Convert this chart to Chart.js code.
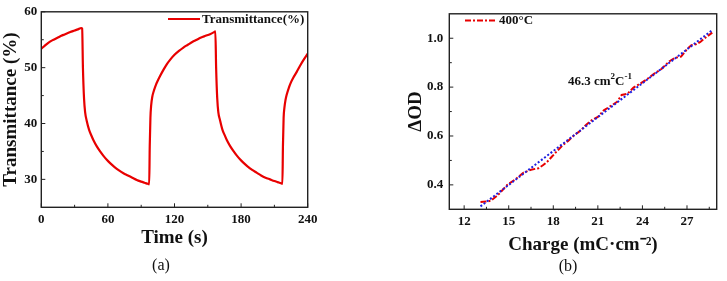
<!DOCTYPE html>
<html>
<head>
<meta charset="utf-8">
<script src="https://cdn.jsdelivr.net/npm/chart.js@4.4.0/dist/chart.umd.min.js"></script>
<style>
  body { margin: 0; background: #fff; }
  #wrap { position: relative; width: 727px; height: 281px; }
  .box { position: absolute; top: 0; height: 281px; }
</style>
</head>
<body>
<div id="wrap">
  <div class="box" style="left:0;width:360px"><canvas id="chartA"></canvas></div>
  <div class="box" style="left:360px;width:367px"><canvas id="chartB"></canvas></div>
</div>
<script>
// (a) transmittance vs time
const timeSec = [
  0, 3, 6, 9, 12, 15, 18, 21, 24, 27, 30, 33, 36, 36.8,
  37.5, 38.5, 39.5, 41, 43, 45, 47, 50, 53, 56, 59, 62, 66, 70, 74, 78, 82, 86, 90, 93, 96, 97.2,
  97.7, 98.3, 99, 100, 101, 103, 105, 107, 110, 113, 116, 120, 124, 128, 132, 136, 140, 144, 148, 152, 156, 156.8,
  157.5, 158.5, 159.5, 161, 163, 165, 167, 170, 173, 176, 179, 182, 186, 190, 194, 198, 202, 206, 210, 213, 216, 217.2,
  217.7, 218.3, 219, 220, 221, 223, 225, 227, 230, 233, 236, 240
];
const transmittance = [
  53.4, 53.9, 54.4, 54.8, 55.1, 55.4, 55.7, 55.95, 56.2, 56.45, 56.65, 56.85, 57.1, 57.0,
  50, 44.5, 42, 40.4, 38.9, 37.9, 37.0, 35.9, 35.0, 34.2, 33.5, 32.9, 32.2, 31.6, 31.1, 30.7, 30.3, 29.9, 29.6, 29.4, 29.2, 29.1,
  36, 41, 43.3, 44.8, 45.6, 46.8, 47.7, 48.5, 49.6, 50.6, 51.4, 52.3, 53.0, 53.6, 54.1, 54.6, 55.0, 55.4, 55.7, 56.0, 56.4, 56.5,
  50, 44.5, 42, 40.6, 39.0, 38.0, 37.1, 36.0, 35.1, 34.3, 33.6, 33.0, 32.3, 31.7, 31.2, 30.7, 30.3, 30.0, 29.7, 29.5, 29.3, 29.2,
  36, 41, 42.8, 44.2, 45.1, 46.4, 47.4, 48.2, 49.2, 50.3, 51.3, 52.5
];
const timeTicks = [0, 60, 120, 180, 240];
const timeMinor = [30, 90, 150, 210];
const transTicks = [30, 40, 50, 60];
const transMinor = [35, 45, 55];

// (b) delta OD vs charge density
const charge = [13.1, 13.5, 13.8, 14.3, 14.9, 15.5, 16.0, 16.5, 17.0, 17.3, 17.6, 17.9, 18.2, 18.6, 19.0, 19.4, 19.8,
  20.2, 20.6, 21.0, 21.4, 21.8, 22.3, 22.6, 23.0, 23.4, 23.8, 24.3, 24.8, 25.3, 25.8, 26.2, 26.6, 27.0, 27.3, 27.6, 27.9, 28.3, 28.7];
const deltaOD = [0.330, 0.332, 0.335, 0.36, 0.40, 0.425, 0.45, 0.462, 0.468, 0.48, 0.495, 0.515, 0.535, 0.56, 0.58, 0.603, 0.62,
  0.645, 0.665, 0.678, 0.705, 0.72, 0.74, 0.768, 0.773, 0.798, 0.812, 0.832, 0.855, 0.875, 0.905, 0.92, 0.925, 0.955, 0.972, 0.975, 0.985, 1.005, 1.023];
const fitCharge = [13.1, 28.7];
const fitOD = [0.312, 1.033];
const chargeTicks = [12, 15, 18, 21, 24, 27];
const chargeMinor = [13.5, 16.5, 19.5, 22.5, 25.5, 28.5];
const odTicks = [0.4, 0.6, 0.8, 1.0];
const odTickLabels = ['0.4', '0.6', '0.8', '1.0'];
const odMinor = [0.5, 0.7, 0.9];

const SERIF = "'Liberation Serif', 'Times New Roman', serif";
Chart.defaults.font.family = SERIF;
Chart.defaults.color = '#111';

// frame, inward ticks, legend, caption, note
const decoPlugin = {
  id: 'deco',
  afterDraw(chart, args, o) {
    const { ctx, chartArea: a, scales: { x, y } } = chart;
    ctx.save();
    ctx.strokeStyle = '#222';
    ctx.lineWidth = 1.4;
    ctx.strokeRect(a.left, a.top, a.right - a.left, a.bottom - a.top);
    ctx.lineWidth = 1;
    ctx.beginPath();
    const tx = (v, len) => { const p = x.getPixelForValue(v); ctx.moveTo(p, a.bottom); ctx.lineTo(p, a.bottom - len); };
    const ty = (v, len) => { const p = y.getPixelForValue(v); ctx.moveTo(a.left, p); ctx.lineTo(a.left + len, p); };
    o.xMajor.forEach(v => tx(v, 4));
    o.xMinor.forEach(v => tx(v, 2.5));
    o.yMajor.forEach(v => ty(v, 4));
    o.yMinor.forEach(v => ty(v, 2.5));
    ctx.stroke();

    // legend
    const ds = chart.data.datasets[o.legendIndex];
    ctx.strokeStyle = ds.borderColor;
    ctx.lineWidth = 2;
    ctx.setLineDash(ds.borderDash || []);
    ctx.beginPath();
    ctx.moveTo(o.legend.x0, o.legend.y);
    ctx.lineTo(o.legend.x1, o.legend.y);
    ctx.stroke();
    ctx.setLineDash([]);
    ctx.fillStyle = '#111';
    ctx.font = 'bold 13px ' + SERIF;
    ctx.textBaseline = 'middle';
    ctx.textAlign = 'left';
    ctx.fillText(ds.label, o.legend.x1 + 2, o.legend.y + 0.5);

    // caption
    ctx.font = '16px ' + SERIF;
    ctx.textAlign = 'center';
    ctx.fillText(o.caption, o.captionX, o.captionY);

    // slope note
    if (o.note) {
      let cx = o.note.x;
      const parts = [['46.3 cm', 13, 0], ['2', 9, -5], ['C', 13, 0], ['-1', 9, -5]];
      ctx.textAlign = 'left';
      parts.forEach(([t, s, dy]) => {
        ctx.font = 'bold ' + s + 'px ' + SERIF;
        ctx.fillText(t, cx, o.note.y + dy);
        cx += ctx.measureText(t).width;
      });
    }
    ctx.restore();
  }
};

const tickFont = { family: SERIF, weight: 'bold', size: 13 };
const titleFont = { family: SERIF, weight: 'bold', size: 19 };

new Chart(document.getElementById('chartA'), {
  type: 'line',
  data: {
    datasets: [{
      label: 'Transmittance(%)',
      data: timeSec.map((t, i) => ({ x: t, y: transmittance[i] })),
      borderColor: 'rgb(232,0,0)',
      borderWidth: 2.2,
      pointRadius: 0,
      cubicInterpolationMode: 'monotone',
      fill: false
    }]
  },
  options: {
    responsive: true,
    maintainAspectRatio: false,
    animation: false,
    layout: { padding: { top: 9.3, right: 52.3, left: 0, bottom: 0 } },
    plugins: {
      legend: { display: false },
      tooltip: { enabled: false },
      deco: {
        xMajor: timeTicks, xMinor: timeMinor, yMajor: transTicks, yMinor: transMinor,
        legendIndex: 0, legend: { x0: 168, x1: 200, y: 19 },
        caption: '(a)', captionX: 161, captionY: 266
      }
    },
    scales: {
      x: {
        type: 'linear', min: 0, max: 240,
        afterBuildTicks: s => { s.ticks = timeTicks.map(v => ({ value: v })); },
        afterFit: s => { s.height = 73.7; },
        grid: { display: false, drawTicks: false },
        border: { display: false },
        ticks: { font: tickFont, padding: 5, maxRotation: 0 },
        title: { display: true, text: 'Time (s)', font: titleFont, padding: { top: 0, bottom: 31.6 } }
      },
      y: {
        type: 'linear', min: 25, max: 60,
        afterBuildTicks: s => { s.ticks = transTicks.map(v => ({ value: v })); },
        afterFit: s => { s.width = 41.3; },
        grid: { display: false, drawTicks: false },
        border: { display: false },
        ticks: { font: tickFont, padding: 4 },
        title: { display: true, text: 'Transmittance (%)', font: titleFont, padding: { top: 0, bottom: 0 } }
      }
    }
  },
  plugins: [decoPlugin]
});

new Chart(document.getElementById('chartB'), {
  type: 'line',
  data: {
    datasets: [{
      label: 'fit',
      data: fitCharge.map((c, i) => ({ x: c, y: fitOD[i] })),
      borderColor: 'rgb(30,30,225)',
      borderWidth: 2,
      borderDash: [2, 2],
      pointRadius: 0,
      order: 0
    }, {
      label: '400°C',
      data: charge.map((c, i) => ({ x: c, y: deltaOD[i] })),
      borderColor: 'rgb(232,0,0)',
      borderWidth: 2,
      borderDash: [6, 2, 2, 2],
      pointRadius: 0,
      order: 1
    }]
  },
  options: {
    responsive: true,
    maintainAspectRatio: false,
    animation: false,
    layout: { padding: { top: 10, right: 10.3, left: 0, bottom: 0 } },
    plugins: {
      legend: { display: false },
      tooltip: { enabled: false },
      deco: {
        xMajor: chargeTicks, xMinor: chargeMinor, yMajor: odTicks, yMinor: odMinor,
        legendIndex: 1, legend: { x0: 105, x1: 137, y: 20.5 },
        caption: '(b)', captionX: 208, captionY: 267,
        note: { x: 208, y: 82 }
      }
    },
    scales: {
      x: {
        type: 'linear', min: 11, max: 29,
        afterBuildTicks: s => { s.ticks = chargeTicks.map(v => ({ value: v })); },
        afterFit: s => { s.height = 71.7; },
        grid: { display: false, drawTicks: false },
        border: { display: false },
        ticks: { font: tickFont, padding: 5, maxRotation: 0 },
        title: { display: true, text: 'Charge (mC·cm⁻²)', font: titleFont, padding: { top: 0, bottom: 24.6 } }
      },
      y: {
        type: 'linear', min: 0.3, max: 1.1,
        afterBuildTicks: s => { s.ticks = odTicks.map(v => ({ value: v })); },
        afterFit: s => { s.width = 89.3; },
        grid: { display: false, drawTicks: false },
        border: { display: false },
        ticks: { font: tickFont, padding: 6, callback: (v, i) => odTickLabels[i] },
        title: { display: true, text: 'ΔOD', font: titleFont, padding: { top: 44.6, bottom: 0 } }
      }
    }
  },
  plugins: [decoPlugin]
});
</script>
</body>
</html>
